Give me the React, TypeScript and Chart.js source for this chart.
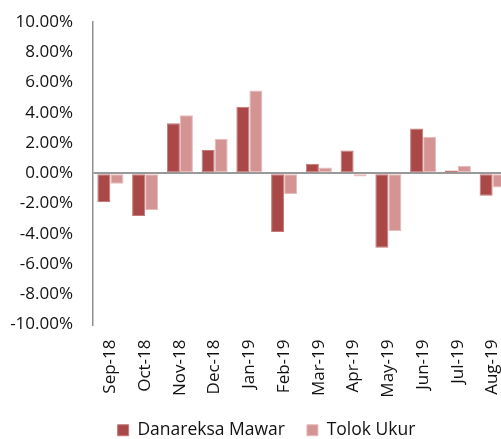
import React, { useEffect, useRef } from "react";
import { Chart, registerables } from "chart.js";

Chart.register(...registerables);

const categories = ["Sep-18", "Oct-18", "Nov-18", "Dec-18", "Jan-19", "Feb-19", "Mar-19", "Apr-19", "May-19", "Jun-19", "Jul-19", "Aug-19"];
const danareksaMawar = [-1.9, -2.83, 3.31, 1.53, 4.39, -3.88, 0.63, 1.5, -4.92, 2.96, 0.18, -1.49];
const tolokUkur = [-0.69, -2.43, 3.84, 2.28, 5.47, -1.37, 0.38, -0.21, -3.82, 2.41, 0.5, -0.94];
const seriesNames = ["Danareksa Mawar", "Tolok Ukur"];
const yMin = -10;
const yMax = 10;
const yStep = 2;

const FONT = "'Open Sans', sans-serif";

export default function App() {
  const ref = useRef<HTMLCanvasElement | null>(null);
  useEffect(() => {
    if (!ref.current) return;
    const chart = new Chart(ref.current, {
      type: "bar",
      data: {
        labels: categories,
        datasets: [
          {
            label: seriesNames[0],
            data: danareksaMawar,
            backgroundColor: "#AA4747",
            borderColor: "#C47878",
            borderWidth: 1,
            borderSkipped: false,
          },
          {
            label: seriesNames[1],
            data: tolokUkur,
            backgroundColor: "#D49494",
            borderColor: "#E6BCBC",
            borderWidth: 1,
            borderSkipped: false,
          },
        ],
      },
      options: {
        responsive: false,
        animation: false,
        devicePixelRatio: 1,
        layout: { padding: { top: 22, left: 0, right: 0, bottom: -10 } },
        datasets: { bar: { categoryPercentage: 0.75, barPercentage: 1 } },
        scales: {
          x: {
            grid: { display: false, drawTicks: false },
            border: { display: false },
            ticks: {
              autoSkip: false,
              minRotation: 90,
              maxRotation: 90,
              padding: 15,
              color: "#111",
              font: { family: FONT, size: 17 },
            },
            afterFit: (s: any) => {
              s.height = 75;
              s.paddingLeft = 0;
              s.paddingRight = 23;
            },
          },
          y: {
            min: yMin,
            max: yMax,
            grid: {
              drawTicks: false,
              color: (c: any) => (c.tick && c.tick.value === 0 ? "#999999" : "rgba(0,0,0,0)"),
              lineWidth: 2,
            },
            border: { display: true, color: "#8f8f8f", width: 1.5 },
            ticks: {
              stepSize: yStep,
              padding: 20,
              color: "#111",
              font: { family: FONT, size: 17 },
              callback: (v: any) => Number(v).toFixed(2) + "%",
            },
            afterFit: (s: any) => {
              s.width = 93;
              s.paddingTop = 0;
              s.paddingBottom = 0;
            },
          },
        },
        plugins: {
          tooltip: { enabled: false },
          legend: {
            position: "bottom",
            labels: {
              boxWidth: 11,
              boxHeight: 11,
              padding: 22,
              color: "#111",
              font: { family: FONT, size: 17.5 },
            },
          },
        },
      },
    });
    return () => chart.destroy();
  }, []);
  return (
    <div style={{ position: "fixed", left: 0, top: 0, width: 501, height: 439, overflow: "hidden", background: "#fff" }}>
      <canvas ref={ref} width={533} height={439} style={{ display: "block" }} />
    </div>
  );
}
